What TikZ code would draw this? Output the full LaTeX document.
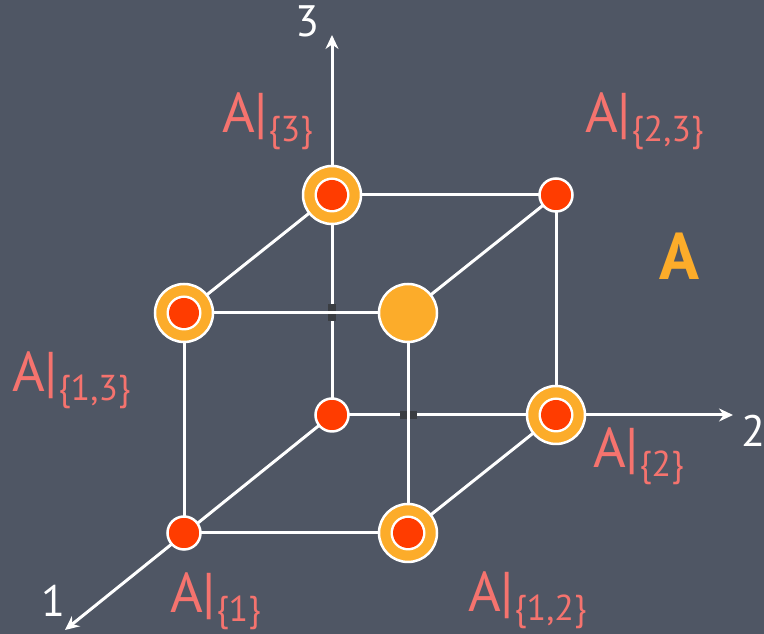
\documentclass[tikz,border=0pt]{standalone}
\usepackage{fontspec}
\setmainfont{PT Sans}
\usetikzlibrary{arrows.meta}
\definecolor{slate}{RGB}{79,86,100}
\definecolor{fred}{RGB}{255,60,0}
\definecolor{gold}{RGB}{252,172,42}
\definecolor{salmon}{RGB}{245,115,110}
\definecolor{gapc}{RGB}{58,61,66}
\newcommand{\restr}[1]{A|\raisebox{-9pt}{\fontsize{36}{40}\selectfont\{#1\}}}
\tikzset{
  edge/.style={draw=white,line width=3pt},
  axis/.style={edge,-{Stealth[length=14pt,width=13pt]}},
  vdot/.style={circle,inner sep=0pt,minimum size=33pt,fill=fred,draw=white,line width=2.5pt},
  vring/.style={circle,inner sep=0pt,minimum size=58pt,fill=gold,draw=white,line width=2.5pt,
    path picture={\fill[white] (path picture bounding box.center) circle (17.5pt);
      \fill[fred] (path picture bounding box.center) circle (15pt);}},
  vtop/.style={circle,inner sep=0pt,minimum size=58pt,fill=gold,draw=white,line width=2.5pt},
  lab/.style={anchor=base west,inner sep=0pt,text=salmon,font=\fontsize{56}{60}\selectfont},
  axl/.style={anchor=base west,inner sep=0pt,text=white,font=\fontsize{44}{46}\selectfont},
  gapv/.style={fill=gapc,inner sep=0pt,minimum width=8pt,minimum height=17pt},
  gaph/.style={fill=gapc,inner sep=0pt,minimum width=17pt,minimum height=8pt},
}

\begin{document}
\begin{tikzpicture}[x=1pt,y=1pt]
\useasboundingbox (0,0) rectangle (764,634);
\fill[slate] (0,0) rectangle (764,634);
% cube corners
\coordinate (v000) at (332,219);
\coordinate (v100) at (184,101);
\coordinate (v010) at (556,219);
\coordinate (v001) at (332,439);
\coordinate (v011) at (556,439);
\coordinate (v101) at (184,321);
\coordinate (v110) at (408,101);
\coordinate (v111) at (408,321);
% axis tips
\coordinate (t1) at (65,4);
\coordinate (t2) at (733,219);
\coordinate (t3) at (332,599);
\draw[axis] (v000) -- (t1);
\draw[axis] (v000) -- (t2);
\draw[axis] (v000) -- (t3);
\draw[edge] (v100) -- (v110);
\draw[edge] (v100) -- (v101);
\draw[edge] (v010) -- (v110);
\draw[edge] (v010) -- (v011);
\draw[edge] (v001) -- (v101);
\draw[edge] (v001) -- (v011);
\draw[edge] (v011) -- (v111);
% hidden crossings
\node[gapv] (g1) at (v000 |- v101) {};
\node[gaph] (g2) at (v110 |- v000) {};
\draw[edge] (v101) -- (v111);
\draw[edge] (v110) -- (v111);
% vertices
\node[vdot] (n000) at (v000) {};
\node[vdot] (n100) at (v100) {};
\node[vdot] (n011) at (v011) {};
\node[vring] (n001) at (v001) {};
\node[vring] (n010) at (v010) {};
\node[vring] (n101) at (v101) {};
\node[vring] (n110) at (v110) {};
\node[vtop] (n111) at (v111) {};
% labels
\node[lab] (l3) at (222,501) {\restr{3}};
\node[lab] (l23) at (585,501) {\restr{2,3}};
\node[lab] (l13) at (12,242) {\restr{1,3}};
\node[lab] (l2) at (593,166) {\restr{2}};
\node[lab] (l1) at (170,21) {\restr{1}};
\node[lab] (l12) at (468,22) {\restr{1,2}};
\node[lab,text=gold,font=\fontsize{66}{68}\selectfont\bfseries] (lA) at (659,354) {A};
\node[axl] (a3) at (295,597) {3};
\node[axl] (a2) at (741,187) {2};
\node[axl] (a1) at (41,17) {1};
\end{tikzpicture}
\end{document}
